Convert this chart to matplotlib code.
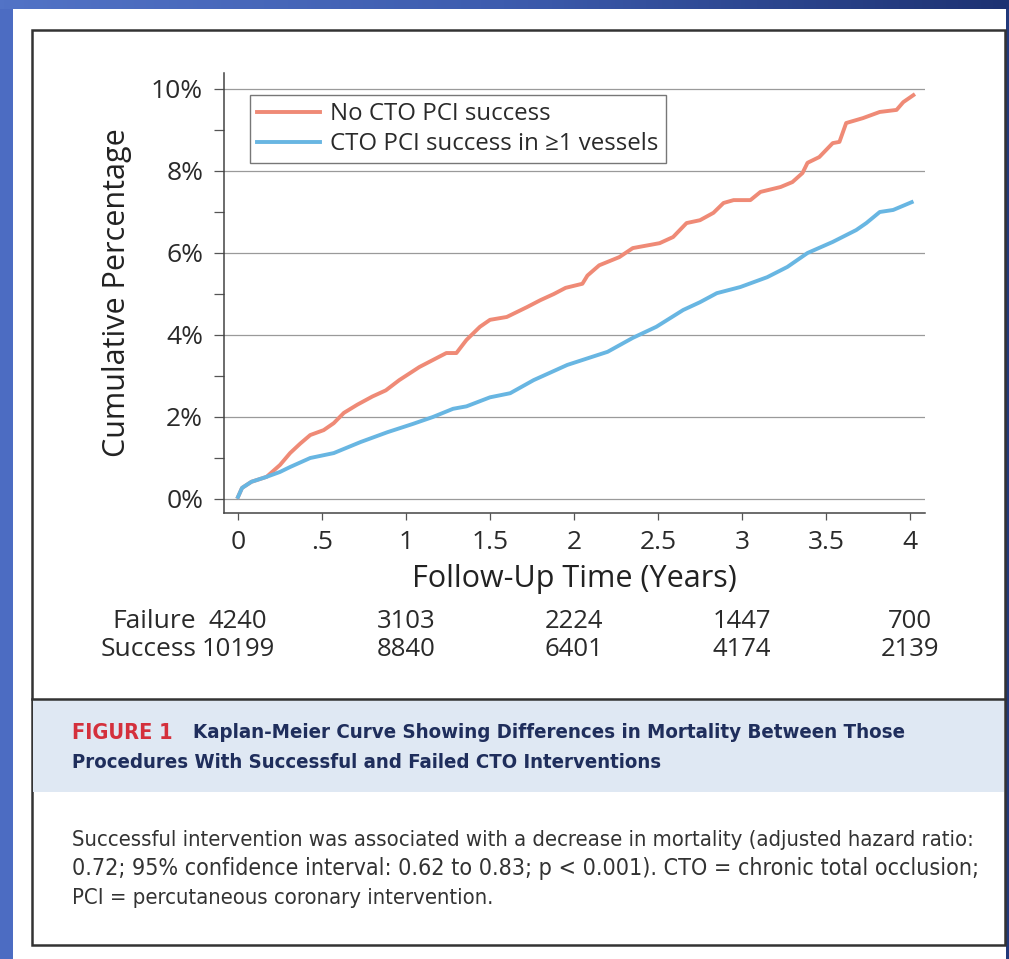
import numpy as np
import matplotlib
matplotlib.use("Agg")
import matplotlib.pyplot as plt
from matplotlib import font_manager as fm
from matplotlib.patches import Rectangle
from matplotlib import transforms

# ---- data -------------------------------------------------------------
failed_t = [0, 0.024, 0.08, 0.17, 0.25, 0.31, 0.37, 0.43, 0.51, 0.57, 0.63, 0.71,
            0.8, 0.88, 0.96, 1.08, 1.16, 1.24, 1.30, 1.36, 1.44, 1.5, 1.6, 1.72,
            1.8, 1.88, 1.95, 2.0, 2.05, 2.08, 2.15, 2.27, 2.35, 2.51, 2.59, 2.67,
            2.75, 2.83, 2.89, 2.95, 3.05, 3.11, 3.23, 3.3, 3.36, 3.39, 3.46, 3.54,
            3.58, 3.62, 3.72, 3.82, 3.92, 3.96, 4.02]
failed_pct = [0.05, 0.27, 0.42, 0.54, 0.83, 1.12, 1.35, 1.56, 1.68, 1.85, 2.1, 2.3,
              2.5, 2.65, 2.9, 3.22, 3.39, 3.56, 3.56, 3.88, 4.2, 4.37, 4.44, 4.68,
              4.85, 5.0, 5.15, 5.2, 5.25, 5.45, 5.7, 5.9, 6.12, 6.24, 6.39, 6.73,
              6.8, 6.98, 7.22, 7.29, 7.29, 7.49, 7.61, 7.73, 7.95, 8.2, 8.34, 8.68,
              8.71, 9.17, 9.29, 9.44, 9.49, 9.68, 9.85]

success_t = [0, 0.024, 0.08, 0.17, 0.25, 0.31, 0.43, 0.57, 0.73, 0.89, 1.04, 1.16,
             1.28, 1.36, 1.5, 1.62, 1.76, 1.96, 2.2, 2.35, 2.49, 2.65, 2.75, 2.85,
             2.99, 3.15, 3.27, 3.39, 3.54, 3.68, 3.74, 3.82, 3.9, 4.01]
success_pct = [0.05, 0.27, 0.42, 0.54, 0.66, 0.78, 1.0, 1.12, 1.39, 1.63, 1.83, 2.0,
               2.2, 2.26, 2.48, 2.58, 2.9, 3.27, 3.59, 3.93, 4.2, 4.61, 4.8, 5.02,
               5.17, 5.41, 5.66, 6.0, 6.27, 6.56, 6.73, 7.0, 7.05, 7.24]

series_labels = ["No CTO PCI success", "CTO PCI success in \u22651 vessels"]
x_ticks = [0, 0.5, 1, 1.5, 2, 2.5, 3, 3.5, 4]
x_ticklabels = ["0", ".5", "1", "1.5", "2", "2.5", "3", "3.5", "4"]
y_ticks = [0, 2, 4, 6, 8, 10]
y_ticklabels = ["0%", "2%", "4%", "6%", "8%", "10%"]

risk_times = [0, 1, 2, 3, 4]
risk_failure = [4240, 3103, 2224, 1447, 700]
risk_success = [10199, 8840, 6401, 4174, 2139]

caption_tag = "FIGURE 1"
caption_title = ["Kaplan-Meier Curve Showing Differences in Mortality Between Those",
                 "Procedures With Successful and Failed CTO Interventions"]
caption_body = ["Successful intervention was associated with a decrease in mortality (adjusted hazard ratio:",
                "0.72; 95% confidence interval: 0.62 to 0.83; p < 0.001). CTO = chronic total occlusion;",
                "PCI = percutaneous coronary intervention."]

# ---- styling ----------------------------------------------------------
W, H = 1009, 959
RED = "#ef8a76"
BLUE = "#68b6e2"
plt.rcParams["font.family"] = ["Open Sans", "DejaVu Sans"]

names = {f.name for f in fm.fontManager.ttflist}
NARROW = "Liberation Sans Narrow" if "Liberation Sans Narrow" in names else "DejaVu Sans"
CAP_FAMILY = [NARROW, "DejaVu Sans"]


def fx(px):
    return px / W


def fy(py):
    return 1 - py / H


fig = plt.figure(figsize=(W / 100, H / 100), dpi=100)
fig.patch.set_facecolor("white")

# blue slide frame
fig.patches.append(Rectangle((0, 0), fx(13), 1, transform=fig.transFigure,
                             facecolor="#4c6cc2", edgecolor="none", zorder=0))
fig.patches.append(Rectangle((fx(1006), 0), fx(3) + 0.001, 1, transform=fig.transFigure,
                             facecolor="#22397a", edgecolor="none", zorder=0))
band = fig.add_axes([0, fy(9), 1, 9 / H], zorder=1)
grad = np.linspace(0, 1, 256)[None, :]
band.imshow(grad, aspect="auto", extent=(0, 1, 0, 1),
            cmap=matplotlib.colors.LinearSegmentedColormap.from_list(
                "band", ["#5273c6", "#3d5cae", "#1d3272"]))
band.set_axis_off()

# white card with caption panel
fig.patches.append(Rectangle((fx(32), fy(945)), fx(1005) - fx(32), fy(30) - fy(945),
                             transform=fig.transFigure, facecolor="white",
                             edgecolor="#333333", linewidth=1.8, zorder=1))
fig.patches.append(Rectangle((fx(33), fy(792)), fx(1004) - fx(33), fy(699) - fy(792),
                             transform=fig.transFigure, facecolor="#dfe8f3",
                             edgecolor="none", zorder=1))
fig.lines.append(plt.Line2D([fx(32), fx(1005)], [fy(699), fy(699)],
                            transform=fig.transFigure, color="#333333",
                            linewidth=1.8, zorder=2))

# ---- main plot --------------------------------------------------------
ax = fig.add_axes([fx(224), fy(513), fx(925) - fx(224), fy(73) - fy(513)], zorder=3)
ax.set_facecolor("none")
ax.plot(failed_t, failed_pct, color=RED, linewidth=2.8, label=series_labels[0],
        solid_joinstyle="round", zorder=3)
ax.plot(success_t, success_pct, color=BLUE, linewidth=2.8, label=series_labels[1],
        solid_joinstyle="round", zorder=4)

ax.set_xlim((224 - 238) / 168, (925 - 238) / 168)
ax.set_ylim((499 - 513) / 41, (499 - 73) / 41)
ax.set_xticks(x_ticks)
ax.set_xticklabels(x_ticklabels)
ax.set_yticks(y_ticks)
ax.set_yticklabels(y_ticklabels)
ax.set_yticks([1, 3, 5, 7, 9], minor=True)
for spine in ("top", "right"):
    ax.spines[spine].set_visible(False)
for spine in ("left", "bottom"):
    ax.spines[spine].set_color("#444444")
    ax.spines[spine].set_linewidth(1.1)
ax.grid(axis="y", which="major", color="#9a9a9a", linewidth=0.9)
ax.tick_params(axis="y", which="both", length=7, width=0.9, color="#555555",
               direction="out", pad=8, labelsize=19, labelcolor="#2a2a2a")
ax.tick_params(axis="x", which="major", length=5, width=0.9, color="#555555",
               direction="out", pad=7, labelsize=19, labelcolor="#2a2a2a")
ax.set_xlabel("Follow-Up Time (Years)", fontsize=22, color="#222222", labelpad=7)
ax.set_ylabel("Cumulative Percentage", fontsize=22, color="#222222", labelpad=14)

leg = ax.legend(loc="upper left", bbox_to_anchor=((250 - 224) / 701, (513 - 95) / 440),
                borderaxespad=0, fontsize=17.3, frameon=True, fancybox=False,
                handlelength=2.6, handletextpad=0.45, borderpad=0.3,
                labelspacing=0.25)
leg.get_frame().set_edgecolor("#555555")
leg.get_frame().set_linewidth(1.0)
for t in leg.get_texts():
    t.set_color("#2a2a2a")

# numbers at risk
risk_tr = transforms.blended_transform_factory(ax.transData, fig.transFigure)
for row_y, label, counts in ((622, "Failure", risk_failure), (650, "Success", risk_success)):
    ax.text(-0.25, fy(row_y), label, transform=risk_tr, ha="right", va="center",
            fontsize=19, color="#2a2a2a")
    for t, n in zip(risk_times, counts):
        ax.text(t, fy(row_y), str(n), transform=risk_tr, ha="center", va="center",
                fontsize=18.5, color="#2a2a2a")

# ---- caption ----------------------------------------------------------
renderer = fig.canvas.get_renderer()


def fitted_text(x_px, y_px, s, width_px, **kw):
    txt = fig.text(fx(x_px), fy(y_px), s, ha="left", va="center", **kw)
    w = txt.get_window_extent(renderer).width
    txt.set_fontsize(txt.get_fontsize() * width_px / w)
    return txt


fitted_text(72, 733, caption_tag, 173 - 72, family=CAP_FAMILY, stretch="condensed",
            weight="bold", color="#d4303c", fontsize=14)
fitted_text(193, 733, caption_title[0], 909 - 193, family=CAP_FAMILY, stretch="condensed",
            weight="bold", color="#1f2e5c", fontsize=14)
fitted_text(72, 763, caption_title[1], 665 - 72, family=CAP_FAMILY, stretch="condensed",
            weight="bold", color="#1f2e5c", fontsize=14)

first = fitted_text(72, 840, caption_body[0], 975 - 72, family=CAP_FAMILY,
                    stretch="condensed", color="#333333", fontsize=13)
second = fitted_text(72, 869, caption_body[1], 975 - 72, family=CAP_FAMILY,
                     stretch="condensed", color="#333333", fontsize=13)
fig.text(fx(72), fy(898), caption_body[2], ha="left", va="center", family=CAP_FAMILY,
         stretch="condensed", color="#333333", fontsize=first.get_fontsize())

fig.savefig("out.png", dpi=100)
